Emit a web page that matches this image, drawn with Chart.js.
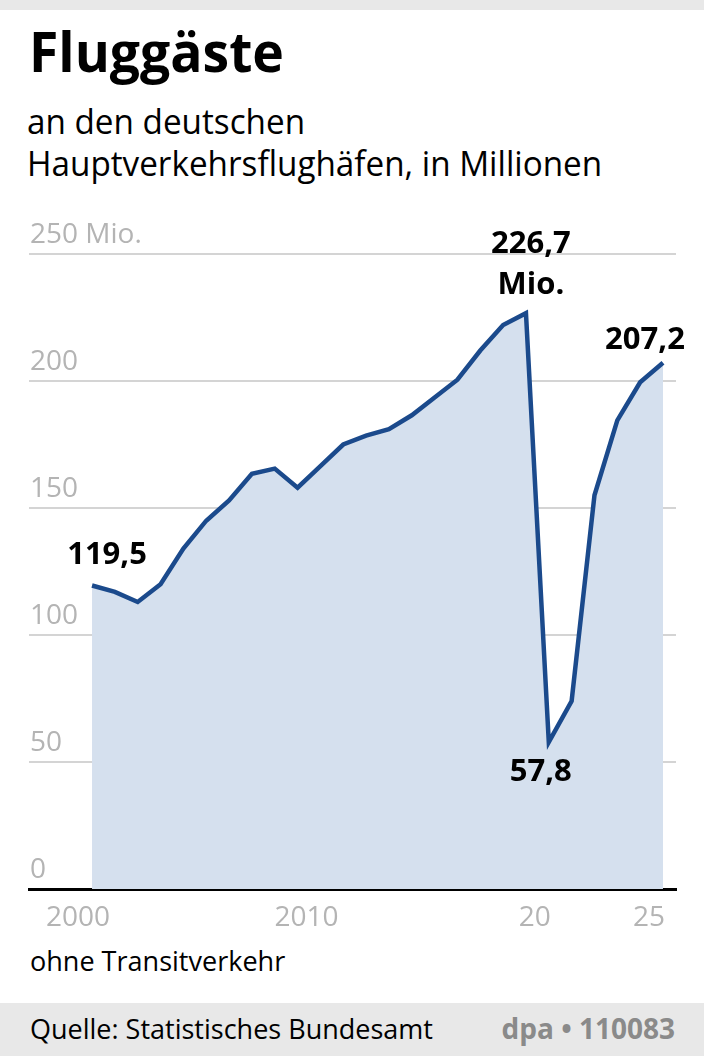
<!DOCTYPE html>
<html>
<head>
<meta charset="utf-8">
<script src="https://cdn.jsdelivr.net/npm/chart.js@4.4.1/dist/chart.umd.min.js"></script>
<style>
  body { margin: 0; width: 704px; height: 1056px; position: relative; background: #fff; overflow: hidden;
         font-family: "Open Sans", "Noto Sans", sans-serif; color: #000; }
  .band { position: absolute; left: 0; width: 704px; background: #e8e8e8; }
  .txt { position: absolute; white-space: nowrap; transform-origin: left top; }
  #chartBox { position: absolute; left: 0; top: 200px; width: 704px; height: 740px; }
</style>
</head>
<body>
<div class="band" style="top:0;height:10px"></div>
<div class="txt" style="left:29px;top:22px;font-size:56px;line-height:56px;font-weight:700;transform:scaleX(0.955)">Fluggäste</div>
<div class="txt" style="left:27px;top:100px;font-size:35px;line-height:42px;transform:scaleX(0.95)">an den deutschen<br>Hauptverkehrsflughäfen, in Millionen</div>
<div id="chartBox"><canvas id="chart"></canvas></div>
<div class="txt" style="left:30px;top:948px;font-size:26.5px;line-height:26.5px;transform:scaleX(1.02)">ohne Transitverkehr</div>
<div class="band" style="top:1003px;height:53px"></div>
<div class="txt" style="left:30px;top:1015px;font-size:27px;line-height:27px">Quelle: Statistisches Bundesamt</div>
<div class="txt" style="right:29px;top:1014px;font-size:28px;line-height:28px;font-weight:700;color:#8a8a8a">dpa • 110083</div>

<script>
// Fluggäste an den Hauptverkehrsflughäfen, in Mio.
const years = [2000, 2001, 2002, 2003, 2004, 2005, 2006, 2007, 2008, 2009, 2010, 2011, 2012,
  2013, 2014, 2015, 2016, 2017, 2018, 2019, 2020, 2021, 2022, 2023, 2024, 2025];
const passengers = [119.5, 117, 113, 120, 134, 145, 153, 163.5, 165.5, 158, 166.5, 175, 178.5,
  181, 186.5, 193.5, 200.5, 212, 222, 226.7, 57.8, 74, 155, 184.5, 199.5, 207.2];

const xTickValues = [2000, 2010, 2020, 2025];
const xTickLabels = ['2000', '2010', '20', '25'];
const yTickValues = [0, 50, 100, 150, 200, 250];
const yTickLabels = ['0', '50', '100', '150', '200', '250 Mio.'];

// labelled points
const labelYears = [2000, 2019, 2020, 2025];
const labelTexts = [['119,5'], ['226,7', 'Mio.'], ['57,8'], ['207,2']];

const valueLabelPlugin = {
  id: 'valueLabels',
  afterDatasetsDraw(chart) {
    const ctx = chart.ctx;
    const xs = chart.scales.x;
    const ys = chart.scales.y;
    // offsets from the point to the first text line
    const offsets = { 2000: [15, -30], 2019: [5, -69], 2020: [-8, 30], 2025: [-18, -23] };
    ctx.save();
    ctx.font = 'bold 31px "Open Sans", sans-serif';
    ctx.fillStyle = '#000';
    ctx.textAlign = 'center';
    ctx.textBaseline = 'middle';
    labelYears.forEach((yr, i) => {
      const v = passengers[years.indexOf(yr)];
      const px = xs.getPixelForValue(yr);
      const py = ys.getPixelForValue(v);
      const [dx, dy] = offsets[yr];
      labelTexts[i].forEach((line, j) => {
        ctx.fillText(line, px + dx, py + dy + j * 41);
      });
    });
    ctx.restore();
  }
};

const ctx = document.getElementById('chart').getContext('2d');
const chart = new Chart(ctx, {
  type: 'line',
  data: {
    datasets: [{
      data: years.map((y, i) => ({ x: y, y: passengers[i] })),
      borderColor: '#1b4a8c',
      borderWidth: 4.5,
      backgroundColor: '#d5e0ee',
      fill: 'origin',
      pointRadius: 0,
      tension: 0,
      borderJoinStyle: 'miter'
    }]
  },
  options: {
    responsive: true,
    maintainAspectRatio: false,
    animation: false,
    events: [],
    layout: { padding: { left: 29, right: 28, top: 54, bottom: 0 } },
    plugins: { legend: { display: false }, tooltip: { enabled: false } },
    scales: {
      x: {
        type: 'linear',
        min: 1997.24,
        max: 2025.57,
        afterBuildTicks: s => { s.ticks = xTickValues.map(v => ({ value: v })); },
        afterFit: s => { s.height = 51; },
        grid: { display: false, drawTicks: false },
        border: { display: true, color: '#000', width: 3 },
        ticks: {
          color: '#b4b4b4',
          font: { family: '"Open Sans", sans-serif', size: 28 },
          padding: 12,
          labelOffset: -14,
          maxRotation: 0,
          autoSkip: false,
          callback: v => xTickLabels[xTickValues.indexOf(v)]
        }
      },
      y: {
        min: 0,
        max: 250,
        afterBuildTicks: s => { s.ticks = yTickValues.map(v => ({ value: v })); },
        afterFit: s => { s.width = 0; },
        grid: { color: '#d4d4d4', lineWidth: 2, drawTicks: false },
        border: { display: false },
        ticks: {
          mirror: true,
          padding: 1,
          labelOffset: -19,
          color: '#b4b4b4',
          font: { family: '"Open Sans", sans-serif', size: 28 },
          callback: v => yTickLabels[yTickValues.indexOf(v)]
        }
      }
    }
  },
  plugins: [valueLabelPlugin]
});
</script>
</body>
</html>
